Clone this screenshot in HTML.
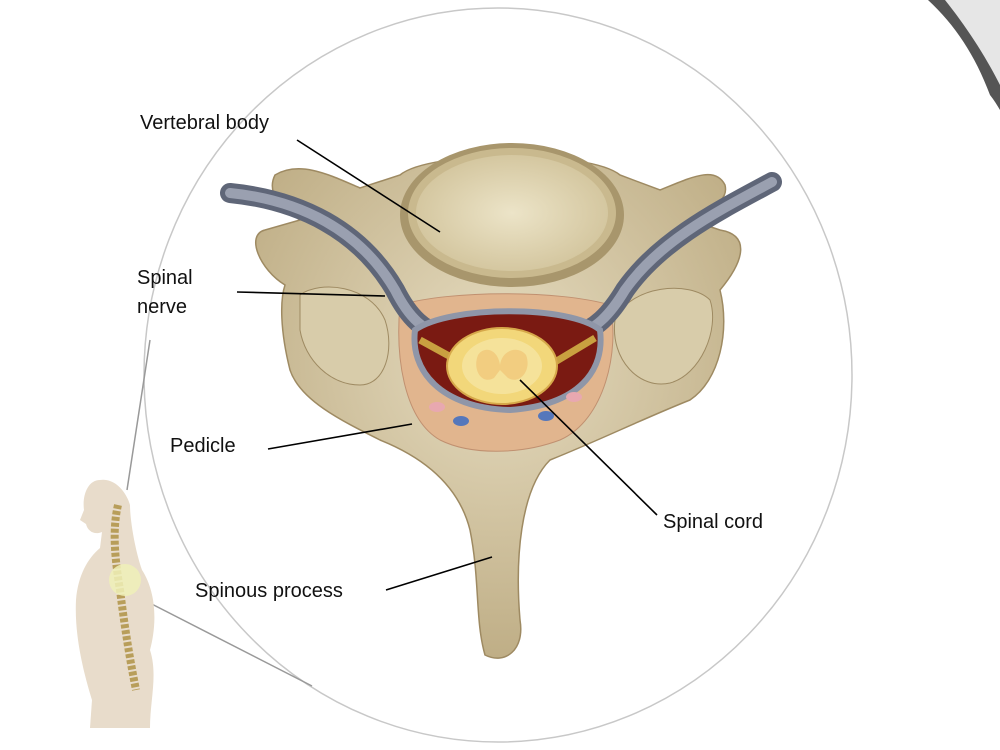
<!DOCTYPE html>
<html><head><style>
html,body{margin:0;padding:0;background:#fff;width:1000px;height:750px;overflow:hidden}
svg{display:block}
text{font-family:"Liberation Sans",sans-serif;font-size:20px;fill:#111}
</style></head><body>
<svg width="1000" height="750" viewBox="0 0 1000 750">
<defs>
<radialGradient id="bone" cx="50%" cy="40%" r="60%"><stop offset="0" stop-color="#e6dcc0"/><stop offset="1" stop-color="#bfae86"/></radialGradient>
<radialGradient id="body" cx="50%" cy="50%" r="55%"><stop offset="0" stop-color="#ece4c8"/><stop offset="1" stop-color="#d2c49c"/></radialGradient>
</defs>
<!-- page curl -->
<path d="M928 0 C960 25 985 60 1000 100 L1000 0 Z" fill="#e6e6e6"/>
<path d="M928 0 C955 25 975 55 990 95 C994 100 997 105 1000 110 L1000 85 C985 55 965 25 945 0 Z" fill="#555"/>
<!-- circle -->
<ellipse cx="498" cy="375" rx="354" ry="367" fill="#fff" stroke="#c8c8c8" stroke-width="1.5"/>
<!-- zoom lines -->
<line x1="127" y1="490" x2="150" y2="340" stroke="#999" stroke-width="1.5"/>
<line x1="140" y1="598" x2="312" y2="686" stroke="#999" stroke-width="1.5"/>
<!-- human figure -->
<path d="M100 480 C88 480 82 495 84 510 L80 520 L86 524 C88 532 95 535 102 532 L100 548 C88 558 78 575 76 600 C74 640 86 680 92 700 L90 728 L150 728 C150 700 158 675 150 650 C158 620 155 590 142 570 C135 550 130 520 130 505 C125 488 112 478 100 480 Z" fill="#e8dccb"/>
<path d="M118 505 C112 530 115 560 120 590 C125 630 130 660 136 690" stroke="#b89e5a" stroke-width="8" fill="none" stroke-dasharray="4 2"/>
<circle cx="125" cy="580" r="16" fill="#eef0b8" opacity="0.85"/>
<!-- vertebra main bone -->
<path d="M275 175 C300 160 330 175 360 188 L400 175 C430 150 590 150 620 175 L660 190 C690 178 715 165 725 185 C730 205 700 210 690 220 L720 230 C750 235 745 260 720 290 C730 330 720 380 690 400 C640 420 600 440 550 460 C520 490 515 560 520 620 C525 650 505 665 485 655 C475 620 480 580 470 530 C460 490 430 460 380 440 C340 420 300 400 290 370 C280 330 280 300 285 285 C260 270 245 235 265 230 L300 220 C285 210 265 195 275 175 Z" fill="url(#bone)" stroke="#9e8a62" stroke-width="1.5"/>
<!-- lateral lobes -->
<path d="M300 295 C320 280 370 285 385 320 C395 350 385 385 360 385 C330 385 305 360 300 330 Z" fill="#d8ccaa" stroke="#9e8a62"/>
<path d="M615 320 C630 285 690 280 710 300 C720 330 700 375 670 383 C640 390 610 360 615 320 Z" fill="#d8ccaa" stroke="#9e8a62"/>
<!-- vertebral body -->
<ellipse cx="512" cy="215" rx="112" ry="72" fill="#a8966c"/>
<ellipse cx="512" cy="213" rx="104" ry="65" fill="#c9b98e"/>
<ellipse cx="512" cy="213" rx="96" ry="58" fill="url(#body)"/>
<!-- pedicle/canal surround -->
<path d="M400 305 C450 290 560 290 610 305 C620 350 605 420 560 440 C520 455 470 455 440 440 C405 420 395 360 400 305 Z" fill="#e1b58e" stroke="#c09070"/>
<!-- nerves -->
<path d="M230 193 C300 200 360 230 395 290 C410 320 425 330 440 335" stroke="#5f6678" stroke-width="20" fill="none" stroke-linecap="round"/>
<path d="M230 193 C300 200 360 230 395 290 C410 320 425 330 440 335" stroke="#9aa0b0" stroke-width="10" fill="none" stroke-linecap="round"/>
<path d="M772 182 C720 210 660 240 625 290 C610 315 595 330 575 335" stroke="#5f6678" stroke-width="20" fill="none" stroke-linecap="round"/>
<path d="M772 182 C720 210 660 240 625 290 C610 315 595 330 575 335" stroke="#9aa0b0" stroke-width="10" fill="none" stroke-linecap="round"/>
<!-- canal -->
<path d="M415 330 C450 305 570 305 600 330 C605 370 580 405 510 410 C440 408 410 370 415 330 Z" fill="#7a1a12" stroke="#8f96a8" stroke-width="6"/>
<line x1="420" y1="340" x2="460" y2="362" stroke="#c9a040" stroke-width="7"/>
<line x1="595" y1="338" x2="555" y2="362" stroke="#c9a040" stroke-width="7"/>
<ellipse cx="502" cy="366" rx="55" ry="38" fill="#f2d77a" stroke="#d6a84a" stroke-width="2"/>
<ellipse cx="502" cy="366" rx="40" ry="28" fill="#f5e29a"/>
<path d="M478 355 C485 345 498 350 500 365 C502 350 518 345 526 355 C532 370 520 385 508 378 L500 370 L494 378 C482 385 472 370 478 355 Z" fill="#f0c070" opacity="0.6"/>
<ellipse cx="437" cy="407" rx="8" ry="5" fill="#e8a8b0"/>
<ellipse cx="574" cy="397" rx="8" ry="5" fill="#e8a8b0"/>
<ellipse cx="461" cy="421" rx="8" ry="5" fill="#5577bb"/>
<ellipse cx="546" cy="416" rx="8" ry="5" fill="#5577bb"/>
<!-- leader lines -->
<g stroke="#000" stroke-width="1.6">
<line x1="297" y1="140" x2="440" y2="232"/>
<line x1="237" y1="292" x2="385" y2="296"/>
<line x1="268" y1="449" x2="412" y2="424"/>
<line x1="657" y1="515" x2="520" y2="380"/>
<line x1="386" y1="590" x2="492" y2="557"/>
</g>
<text x="140" y="129">Vertebral body</text>
<text x="137" y="284">Spinal</text>
<text x="137" y="313">nerve</text>
<text x="170" y="452">Pedicle</text>
<text x="663" y="528">Spinal cord</text>
<text x="195" y="597">Spinous process</text>
</svg>
</body></html>
